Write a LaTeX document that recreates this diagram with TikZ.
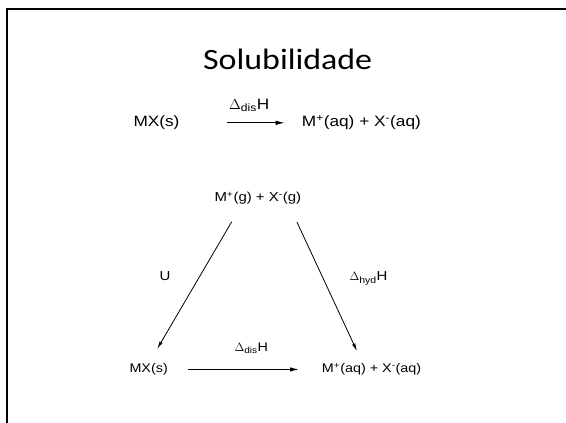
\documentclass[tikz,border=0pt]{standalone}
\usepackage{fontspec}
\setmainfont[FakeStretch=1.15]{Liberation Sans}
\newfontfamily\titlefont[FakeStretch=1.15]{Carlito}
\usepackage{tikz}
\usetikzlibrary{arrows.meta,positioning}

\begin{document}
\begin{tikzpicture}[x=1pt,y=-1pt,
    species/.style={anchor=base west,inner sep=0pt,font=\fontsize{#1}{#1}\selectfont},
    species/.default=15,
    rxnarrow/.style={line width=1pt,-{Latex[length=9pt,width=4.5pt]}},
    cyclearrow/.style={line width=0.8pt,-{Latex[length=8pt,width=3.5pt]}}]
  \useasboundingbox (0,0) rectangle (566,423);
  \draw[line width=2.5pt] (7,430) -- (7,9) -- (575,9);
  \node[anchor=base,inner sep=0pt,font=\titlefont\fontsize{29.5}{30}\selectfont] (title) at (287.7,69.3) {Solubilidade};
  \node[species] (mxtop) at (133.3,126.7) {MX(s)};
  \node[species] (prodtop) at (301.7,126.7) {M\textsuperscript{+}(aq) + X\textsuperscript{-}(aq)};
  \node[species] (distop) at (229,109) {$\Delta$\textsubscript{dis}H};
  \node[species=13] (gas) at (214.3,201.7) {M\textsuperscript{+}(g) + X\textsuperscript{-}(g)};
  \node[species=12.5] (mxbot) at (129.3,372.7) {MX(s)};
  \node[species=12.5] (prodbot) at (321.7,372.7) {M\textsuperscript{+}(aq) + X\textsuperscript{-}(aq)};
  \node[species=12.5] (disbot) at (234.3,351.7) {$\Delta$\textsubscript{dis}H};
  \node[species=13] (lattice) at (159.3,280) {U};
  \node[species=13] (hyd) at (349.3,280.7) {$\Delta$\textsubscript{hyd}H};
  \draw[rxnarrow,shorten <=47pt,shorten >=17pt] (mxtop.east) -- (mxtop.east -| prodtop.west);
  \draw[rxnarrow,shorten <=20pt,shorten >=22.7pt] (mxbot.east) -- (mxbot.east -| prodbot.west);
  \draw[cyclearrow,shorten <=20pt,shorten >=16.6pt] ([xshift=-16pt]gas.south) -- (mxbot.north);
  \draw[cyclearrow,shorten <=19.2pt,shorten >=13pt] ([xshift=31pt]gas.south) -- ([xshift=-9pt]prodbot.north);
\end{tikzpicture}
\end{document}
